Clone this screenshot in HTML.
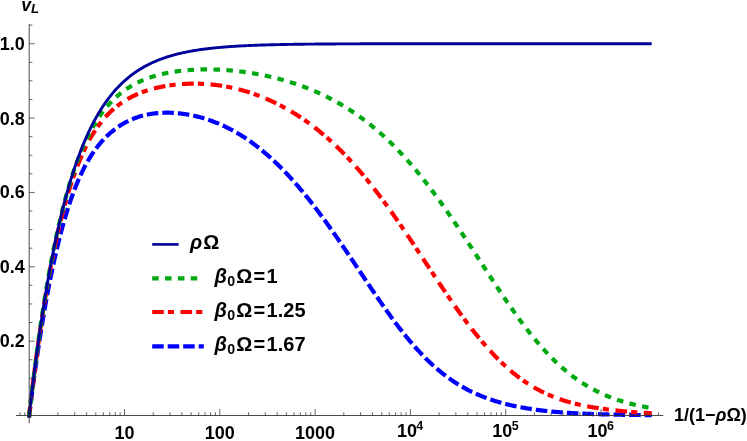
<!DOCTYPE html>
<html><head><meta charset="utf-8"><title>plot</title>
<style>
html,body{margin:0;padding:0;background:#fff;}
body{width:747px;height:441px;overflow:hidden;}
svg{display:block;will-change:transform;}
text{font-family:"Liberation Sans",sans-serif;font-weight:bold;fill:#000;}
</style></head><body>
<svg width="747" height="441" viewBox="0 0 747 441">
<rect width="747" height="441" fill="#fff"/>
<path d="M28.96 417.49 L29.20 415.50 L30.09 408.26 L30.98 401.17 L31.87 394.22 L32.76 387.42 L33.65 380.76 L34.54 374.24 L35.43 367.85 L36.32 361.59 L37.22 355.47 L38.11 349.47 L39.00 343.59 L39.89 337.84 L40.78 332.21 L41.67 326.70 L42.56 321.30 L43.45 316.02 L44.34 310.84 L45.23 305.78 L46.12 300.83 L47.01 295.98 L47.90 291.23 L48.79 286.59 L49.68 282.05 L50.57 277.60 L51.46 273.25 L52.35 269.00 L53.25 264.84 L54.14 260.77 L55.03 256.80 L55.92 252.91 L56.81 249.11 L57.70 245.40 L58.59 241.77 L59.48 238.22 L60.37 234.76 L61.26 231.37 L62.15 228.07 L63.04 224.84 L63.93 221.69 L64.82 218.61 L65.71 215.61 L66.60 212.68 L67.49 209.82 L68.38 207.03 L69.28 204.30 L70.17 201.65 L71.06 199.06 L71.95 196.53 L72.84 194.07 L73.73 191.67 L74.62 189.33 L75.51 187.05 L76.40 184.83 L77.29 182.66 L78.18 180.55 L79.07 178.50 L79.96 176.50 L80.85 174.56 L81.74 172.67 L82.63 170.83 L83.52 169.03 L84.41 167.29 L85.31 165.60 L86.20 163.95 L87.09 162.35 L87.98 160.79 L88.87 159.28 L89.76 157.81 L90.65 156.38 L91.54 154.99 L92.43 153.64 L93.32 152.32 L94.21 151.04 L95.10 149.80 L95.99 148.59 L96.88 147.41 L97.77 146.27 L98.66 145.16 L99.55 144.07 L100.44 143.01 L101.34 141.99 L102.23 140.98 L103.12 140.01 L104.01 139.05 L104.90 138.13 L105.79 137.22 L106.68 136.34 L107.57 135.48 L108.46 134.65 L109.35 133.84 L110.24 133.04 L111.13 132.27 L112.02 131.52 L112.91 130.79 L113.80 130.08 L114.69 129.39 L115.58 128.72 L116.47 128.06 L117.37 127.43 L118.26 126.81 L119.15 126.21 L120.04 125.62 L120.93 125.06 L121.82 124.51 L122.71 123.97 L123.60 123.46 L124.49 122.95 L125.38 122.47 L126.27 122.00 L127.16 121.54 L128.05 121.10 L128.94 120.67 L129.83 120.26 L130.72 119.86 L131.61 119.47 L132.50 119.10 L133.40 118.74 L134.29 118.39 L135.18 118.05 L136.07 117.73 L136.96 117.42 L137.85 117.12 L138.74 116.83 L139.63 116.55 L140.52 116.29 L141.41 116.03 L142.30 115.79 L143.19 115.56 L144.08 115.33 L144.97 115.12 L145.86 114.92 L146.75 114.72 L147.64 114.54 L148.53 114.37 L149.43 114.20 L150.32 114.05 L151.21 113.90 L152.10 113.77 L152.99 113.64 L153.88 113.52 L154.77 113.41 L155.66 113.31 L156.55 113.21 L157.44 113.13 L158.33 113.05 L159.22 112.98 L160.11 112.92 L161.00 112.86 L161.89 112.82 L162.78 112.78 L163.67 112.75 L164.56 112.73 L165.46 112.71 L166.35 112.70 L167.24 112.70 L168.13 112.71 L169.02 112.72 L169.91 112.74 L170.80 112.77 L171.69 112.80 L172.58 112.84 L173.47 112.89 L174.36 112.95 L175.25 113.01 L176.14 113.08 L177.03 113.15 L177.92 113.23 L178.81 113.32 L179.70 113.41 L180.59 113.52 L181.49 113.62 L182.38 113.74 L183.27 113.86 L184.16 113.98 L185.05 114.12 L185.94 114.26 L186.83 114.40 L187.72 114.55 L188.61 114.71 L189.50 114.88 L190.39 115.05 L191.28 115.22 L192.17 115.41 L193.06 115.60 L193.95 115.79 L194.84 115.99 L195.73 116.20 L196.62 116.41 L197.52 116.63 L198.41 116.86 L199.30 117.09 L200.19 117.33 L201.08 117.58 L201.97 117.83 L202.86 118.09 L203.75 118.35 L204.64 118.62 L205.53 118.90 L206.42 119.18 L207.31 119.47 L208.20 119.76 L209.09 120.06 L209.98 120.37 L210.87 120.68 L211.76 121.01 L212.65 121.33 L213.55 121.67 L214.44 122.00 L215.33 122.35 L216.22 122.70 L217.11 123.06 L218.00 123.43 L218.89 123.80 L219.78 124.18 L220.67 124.56 L221.56 124.96 L222.45 125.36 L223.34 125.76 L224.23 126.17 L225.12 126.59 L226.01 127.02 L226.90 127.45 L227.79 127.89 L228.68 128.34 L229.58 128.79 L230.47 129.25 L231.36 129.72 L232.25 130.20 L233.14 130.68 L234.03 131.17 L234.92 131.67 L235.81 132.17 L236.70 132.68 L237.59 133.20 L238.48 133.73 L239.37 134.26 L240.26 134.80 L241.15 135.35 L242.04 135.91 L242.93 136.47 L243.82 137.04 L244.72 137.62 L245.61 138.21 L246.50 138.80 L247.39 139.40 L248.28 140.01 L249.17 140.63 L250.06 141.26 L250.95 141.89 L251.84 142.53 L252.73 143.18 L253.62 143.83 L254.51 144.50 L255.40 145.17 L256.29 145.85 L257.18 146.54 L258.07 147.23 L258.96 147.93 L259.85 148.64 L260.75 149.36 L261.64 150.09 L262.53 150.82 L263.42 151.56 L264.31 152.31 L265.20 153.07 L266.09 153.83 L266.98 154.60 L267.87 155.38 L268.76 156.17 L269.65 156.96 L270.54 157.77 L271.43 158.58 L272.32 159.40 L273.21 160.22 L274.10 161.05 L274.99 161.90 L275.88 162.75 L276.78 163.60 L277.67 164.47 L278.56 165.34 L279.45 166.22 L280.34 167.10 L281.23 168.00 L282.12 168.90 L283.01 169.81 L283.90 170.73 L284.79 171.66 L285.68 172.59 L286.57 173.53 L287.46 174.48 L288.35 175.43 L289.24 176.39 L290.13 177.36 L291.02 178.34 L291.91 179.33 L292.81 180.32 L293.70 181.32 L294.59 182.32 L295.48 183.34 L296.37 184.36 L297.26 185.39 L298.15 186.42 L299.04 187.47 L299.93 188.52 L300.82 189.57 L301.71 190.64 L302.60 191.71 L303.49 192.79 L304.38 193.87 L305.27 194.96 L306.16 196.06 L307.05 197.16 L307.94 198.27 L308.84 199.39 L309.73 200.52 L310.62 201.65 L311.51 202.78 L312.40 203.93 L313.29 205.08 L314.18 206.23 L315.07 207.40 L315.96 208.56 L316.85 209.74 L317.74 210.92 L318.63 212.10 L319.52 213.29 L320.41 214.49 L321.30 215.69 L322.19 216.90 L323.08 218.11 L323.97 219.33 L324.87 220.56 L325.76 221.78 L326.65 223.02 L327.54 224.26 L328.43 225.50 L329.32 226.75 L330.21 228.00 L331.10 229.26 L331.99 230.52 L332.88 231.79 L333.77 233.06 L334.66 234.33 L335.55 235.61 L336.44 236.89 L337.33 238.17 L338.22 239.46 L339.11 240.75 L340.00 242.05 L340.90 243.35 L341.79 244.65 L342.68 245.95 L343.57 247.26 L344.46 248.57 L345.35 249.88 L346.24 251.20 L347.13 252.51 L348.02 253.83 L348.91 255.15 L349.80 256.47 L350.69 257.80 L351.58 259.12 L352.47 260.45 L353.36 261.78 L354.25 263.11 L355.14 264.44 L356.03 265.77 L356.93 267.10 L357.82 268.43 L358.71 269.76 L359.60 271.09 L360.49 272.42 L361.38 273.75 L362.27 275.08 L363.16 276.41 L364.05 277.74 L364.94 279.07 L365.83 280.40 L366.72 281.72 L367.61 283.05 L368.50 284.37 L369.39 285.69 L370.28 287.01 L371.17 288.33 L372.06 289.64 L372.96 290.96 L373.85 292.27 L374.74 293.57 L375.63 294.88 L376.52 296.18 L377.41 297.48 L378.30 298.77 L379.19 300.06 L380.08 301.35 L380.97 302.63 L381.86 303.91 L382.75 305.19 L383.64 306.46 L384.53 307.72 L385.42 308.98 L386.31 310.24 L387.20 311.49 L388.09 312.74 L388.99 313.98 L389.88 315.21 L390.77 316.44 L391.66 317.66 L392.55 318.87 L393.44 320.08 L394.33 321.28 L395.22 322.48 L396.11 323.67 L397.00 324.85 L397.89 326.02 L398.78 327.19 L399.67 328.34 L400.56 329.49 L401.45 330.64 L402.34 331.77 L403.23 332.90 L404.12 334.02 L405.02 335.13 L405.91 336.23 L406.80 337.32 L407.69 338.41 L408.58 339.48 L409.47 340.55 L410.36 341.61 L411.25 342.65 L412.14 343.69 L413.03 344.72 L413.92 345.74 L414.81 346.76 L415.70 347.76 L416.59 348.75 L417.48 349.73 L418.37 350.71 L419.26 351.67 L420.15 352.63 L421.05 353.57 L421.94 354.51 L422.83 355.43 L423.72 356.35 L424.61 357.25 L425.50 358.15 L426.39 359.03 L427.28 359.91 L428.17 360.78 L429.06 361.63 L429.95 362.48 L430.84 363.32 L431.73 364.14 L432.62 364.96 L433.51 365.77 L434.40 366.56 L435.29 367.35 L436.18 368.13 L437.08 368.90 L437.97 369.66 L438.86 370.41 L439.75 371.15 L440.64 371.87 L441.53 372.60 L442.42 373.31 L443.31 374.01 L444.20 374.70 L445.09 375.38 L445.98 376.05 L446.87 376.72 L447.76 377.37 L448.65 378.02 L449.54 378.66 L450.43 379.28 L451.32 379.90 L452.22 380.51 L453.11 381.11 L454.00 381.71 L454.89 382.29 L455.78 382.86 L456.67 383.43 L457.56 383.99 L458.45 384.54 L459.34 385.08 L460.23 385.61 L461.12 386.14 L462.01 386.65 L462.90 387.16 L463.79 387.66 L464.68 388.16 L465.57 388.64 L466.46 389.12 L467.35 389.59 L468.25 390.05 L469.14 390.51 L470.03 390.95 L470.92 391.39 L471.81 391.83 L472.70 392.25 L473.59 392.67 L474.48 393.09 L475.37 393.49 L476.26 393.89 L477.15 394.29 L478.04 394.67 L478.93 395.05 L479.82 395.43 L480.71 395.80 L481.60 396.16 L482.49 396.51 L483.38 396.86 L484.28 397.21 L485.17 397.55 L486.06 397.88 L486.95 398.21 L487.84 398.53 L488.73 398.85 L489.62 399.16 L490.51 399.46 L491.40 399.77 L492.29 400.06 L493.18 400.35 L494.07 400.64 L494.96 400.92 L495.85 401.20 L496.74 401.47 L497.63 401.74 L498.52 402.00 L499.41 402.26 L500.31 402.51 L501.20 402.76 L502.09 403.01 L502.98 403.25 L503.87 403.48 L504.76 403.72 L505.65 403.95 L506.54 404.17 L507.43 404.39 L508.32 404.61 L509.21 404.82 L510.10 405.03 L510.99 405.24 L511.88 405.44 L512.77 405.64 L513.66 405.83 L514.55 406.02 L515.44 406.21 L516.34 406.40 L517.23 406.58 L518.12 406.76 L519.01 406.93 L519.90 407.11 L520.79 407.27 L521.68 407.44 L522.57 407.60 L523.46 407.76 L524.35 407.92 L525.24 408.07 L526.13 408.23 L527.02 408.37 L527.91 408.52 L528.80 408.66 L529.69 408.80 L530.58 408.94 L531.47 409.08 L532.37 409.21 L533.26 409.34 L534.15 409.47 L535.04 409.59 L535.93 409.72 L536.82 409.84 L537.71 409.95 L538.60 410.07 L539.49 410.18 L540.38 410.30 L541.27 410.40 L542.16 410.51 L543.05 410.62 L543.94 410.72 L544.83 410.82 L545.72 410.92 L546.61 411.01 L547.50 411.11 L548.40 411.20 L549.29 411.29 L550.18 411.38 L551.07 411.47 L551.96 411.55 L552.85 411.64 L553.74 411.72 L554.63 411.80 L555.52 411.88 L556.41 411.95 L557.30 412.03 L558.19 412.10 L559.08 412.17 L559.97 412.25 L560.86 412.31 L561.75 412.38 L562.64 412.45 L563.53 412.51 L564.43 412.58 L565.32 412.64 L566.21 412.70 L567.10 412.76 L567.99 412.82 L568.88 412.87 L569.77 412.93 L570.66 412.98 L571.55 413.04 L572.44 413.09 L573.33 413.14 L574.22 413.19 L575.11 413.24 L576.00 413.29 L576.89 413.33 L577.78 413.38 L578.67 413.43 L579.56 413.47 L580.46 413.51 L581.35 413.56 L582.24 413.60 L583.13 413.64 L584.02 413.68 L584.91 413.72 L585.80 413.75 L586.69 413.79 L587.58 413.83 L588.47 413.86 L589.36 413.90 L590.25 413.93 L591.14 413.97 L592.03 414.00 L592.92 414.03 L593.81 414.06 L594.70 414.09 L595.59 414.12 L596.49 414.15 L597.38 414.18 L598.27 414.21 L599.16 414.24 L600.05 414.26 L600.94 414.29 L601.83 414.31 L602.72 414.34 L603.61 414.36 L604.50 414.39 L605.39 414.41 L606.28 414.44 L607.17 414.46 L608.06 414.48 L608.95 414.50 L609.84 414.52 L610.73 414.54 L611.62 414.56 L612.52 414.58 L613.41 414.60 L614.30 414.62 L615.19 414.64 L616.08 414.66 L616.97 414.68 L617.86 414.70 L618.75 414.71 L619.64 414.73 L620.53 414.75 L621.42 414.76 L622.31 414.78 L623.20 414.79 L624.09 414.81 L624.98 414.82 L625.87 414.84 L626.76 414.85 L627.65 414.87 L628.55 414.88 L629.44 414.89 L630.33 414.91 L631.22 414.92 L632.11 414.93 L633.00 414.94 L633.89 414.95 L634.78 414.97 L635.67 414.98 L636.56 414.99 L637.45 415.00 L638.34 415.01 L639.23 415.02 L640.12 415.03 L641.01 415.04 L641.90 415.05 L642.79 415.06 L643.68 415.07 L644.58 415.08 L645.47 415.09 L646.36 415.10 L647.25 415.10 L648.14 415.11 L649.03 415.12 L649.92 415.13 L650.81 415.14 L651.70 415.15" stroke="#0000ff" stroke-width="4.2" stroke-dasharray="11.55 4.025" stroke-dashoffset="0.78" fill="none"/>
<path d="M28.97 417.49 L29.20 415.50 L30.09 407.71 L30.98 400.08 L31.87 392.60 L32.76 385.28 L33.65 378.11 L34.54 371.09 L35.43 364.22 L36.32 357.49 L37.22 350.90 L38.11 344.45 L39.00 338.14 L39.89 331.96 L40.78 325.91 L41.67 320.00 L42.56 314.21 L43.45 308.54 L44.34 303.00 L45.23 297.58 L46.12 292.28 L47.01 287.09 L47.90 282.02 L48.79 277.05 L49.68 272.20 L50.57 267.46 L51.46 262.82 L52.35 258.29 L53.25 253.86 L54.14 249.53 L55.03 245.29 L55.92 241.15 L56.81 237.11 L57.70 233.16 L58.59 229.30 L59.48 225.53 L60.37 221.84 L61.26 218.25 L62.15 214.73 L63.04 211.30 L63.93 207.95 L64.82 204.67 L65.71 201.48 L66.60 198.36 L67.49 195.31 L68.38 192.34 L69.28 189.44 L70.17 186.61 L71.06 183.85 L71.95 181.15 L72.84 178.52 L73.73 175.96 L74.62 173.46 L75.51 171.02 L76.40 168.64 L77.29 166.32 L78.18 164.05 L79.07 161.85 L79.96 159.69 L80.85 157.60 L81.74 155.55 L82.63 153.56 L83.52 151.62 L84.41 149.73 L85.31 147.89 L86.20 146.09 L87.09 144.34 L87.98 142.64 L88.87 140.98 L89.76 139.36 L90.65 137.79 L91.54 136.25 L92.43 134.76 L93.32 133.31 L94.21 131.90 L95.10 130.52 L95.99 129.18 L96.88 127.87 L97.77 126.61 L98.66 125.37 L99.55 124.17 L100.44 123.00 L101.34 121.86 L102.23 120.75 L103.12 119.68 L104.01 118.63 L104.90 117.61 L105.79 116.62 L106.68 115.65 L107.57 114.71 L108.46 113.80 L109.35 112.91 L110.24 112.04 L111.13 111.20 L112.02 110.38 L112.91 109.59 L113.80 108.81 L114.69 108.06 L115.58 107.32 L116.47 106.60 L117.37 105.91 L118.26 105.23 L119.15 104.57 L120.04 103.92 L120.93 103.29 L121.82 102.68 L122.71 102.08 L123.60 101.50 L124.49 100.93 L125.38 100.38 L126.27 99.84 L127.16 99.31 L128.05 98.80 L128.94 98.30 L129.83 97.81 L130.72 97.34 L131.61 96.88 L132.50 96.43 L133.40 95.99 L134.29 95.56 L135.18 95.14 L136.07 94.73 L136.96 94.34 L137.85 93.95 L138.74 93.58 L139.63 93.21 L140.52 92.85 L141.41 92.51 L142.30 92.17 L143.19 91.84 L144.08 91.52 L144.97 91.21 L145.86 90.90 L146.75 90.61 L147.64 90.32 L148.53 90.04 L149.43 89.77 L150.32 89.50 L151.21 89.25 L152.10 89.00 L152.99 88.75 L153.88 88.52 L154.77 88.29 L155.66 88.07 L156.55 87.85 L157.44 87.64 L158.33 87.44 L159.22 87.24 L160.11 87.05 L161.00 86.87 L161.89 86.69 L162.78 86.51 L163.67 86.35 L164.56 86.18 L165.46 86.03 L166.35 85.88 L167.24 85.73 L168.13 85.59 L169.02 85.46 L169.91 85.33 L170.80 85.21 L171.69 85.09 L172.58 84.97 L173.47 84.86 L174.36 84.76 L175.25 84.66 L176.14 84.57 L177.03 84.48 L177.92 84.39 L178.81 84.31 L179.70 84.24 L180.59 84.17 L181.49 84.10 L182.38 84.04 L183.27 83.98 L184.16 83.93 L185.05 83.88 L185.94 83.84 L186.83 83.80 L187.72 83.77 L188.61 83.74 L189.50 83.71 L190.39 83.69 L191.28 83.67 L192.17 83.66 L193.06 83.65 L193.95 83.65 L194.84 83.65 L195.73 83.65 L196.62 83.66 L197.52 83.68 L198.41 83.69 L199.30 83.72 L200.19 83.74 L201.08 83.78 L201.97 83.81 L202.86 83.85 L203.75 83.90 L204.64 83.95 L205.53 84.00 L206.42 84.06 L207.31 84.12 L208.20 84.19 L209.09 84.26 L209.98 84.34 L210.87 84.42 L211.76 84.50 L212.65 84.60 L213.55 84.69 L214.44 84.79 L215.33 84.89 L216.22 85.00 L217.11 85.12 L218.00 85.24 L218.89 85.36 L219.78 85.49 L220.67 85.62 L221.56 85.76 L222.45 85.90 L223.34 86.05 L224.23 86.20 L225.12 86.36 L226.01 86.52 L226.90 86.69 L227.79 86.86 L228.68 87.04 L229.58 87.22 L230.47 87.40 L231.36 87.59 L232.25 87.79 L233.14 87.99 L234.03 88.19 L234.92 88.40 L235.81 88.61 L236.70 88.83 L237.59 89.05 L238.48 89.28 L239.37 89.51 L240.26 89.75 L241.15 89.99 L242.04 90.24 L242.93 90.49 L243.82 90.74 L244.72 91.00 L245.61 91.27 L246.50 91.54 L247.39 91.81 L248.28 92.09 L249.17 92.37 L250.06 92.66 L250.95 92.96 L251.84 93.25 L252.73 93.56 L253.62 93.86 L254.51 94.18 L255.40 94.50 L256.29 94.82 L257.18 95.14 L258.07 95.48 L258.96 95.81 L259.85 96.16 L260.75 96.50 L261.64 96.85 L262.53 97.21 L263.42 97.57 L264.31 97.94 L265.20 98.31 L266.09 98.69 L266.98 99.07 L267.87 99.46 L268.76 99.85 L269.65 100.25 L270.54 100.65 L271.43 101.06 L272.32 101.47 L273.21 101.89 L274.10 102.31 L274.99 102.74 L275.88 103.17 L276.78 103.61 L277.67 104.06 L278.56 104.51 L279.45 104.96 L280.34 105.42 L281.23 105.89 L282.12 106.36 L283.01 106.83 L283.90 107.32 L284.79 107.80 L285.68 108.30 L286.57 108.79 L287.46 109.30 L288.35 109.81 L289.24 110.32 L290.13 110.85 L291.02 111.37 L291.91 111.90 L292.81 112.44 L293.70 112.99 L294.59 113.54 L295.48 114.09 L296.37 114.65 L297.26 115.22 L298.15 115.79 L299.04 116.37 L299.93 116.96 L300.82 117.55 L301.71 118.15 L302.60 118.75 L303.49 119.36 L304.38 119.97 L305.27 120.59 L306.16 121.22 L307.05 121.85 L307.94 122.49 L308.84 123.14 L309.73 123.79 L310.62 124.45 L311.51 125.11 L312.40 125.79 L313.29 126.46 L314.18 127.15 L315.07 127.84 L315.96 128.53 L316.85 129.24 L317.74 129.95 L318.63 130.66 L319.52 131.38 L320.41 132.11 L321.30 132.85 L322.19 133.59 L323.08 134.34 L323.97 135.09 L324.87 135.86 L325.76 136.62 L326.65 137.40 L327.54 138.18 L328.43 138.97 L329.32 139.76 L330.21 140.57 L331.10 141.38 L331.99 142.19 L332.88 143.01 L333.77 143.84 L334.66 144.68 L335.55 145.52 L336.44 146.37 L337.33 147.23 L338.22 148.09 L339.11 148.96 L340.00 149.84 L340.90 150.73 L341.79 151.62 L342.68 152.52 L343.57 153.42 L344.46 154.33 L345.35 155.25 L346.24 156.18 L347.13 157.11 L348.02 158.05 L348.91 159.00 L349.80 159.95 L350.69 160.91 L351.58 161.88 L352.47 162.86 L353.36 163.84 L354.25 164.83 L355.14 165.82 L356.03 166.83 L356.93 167.84 L357.82 168.85 L358.71 169.88 L359.60 170.91 L360.49 171.94 L361.38 172.99 L362.27 174.04 L363.16 175.10 L364.05 176.16 L364.94 177.23 L365.83 178.31 L366.72 179.40 L367.61 180.49 L368.50 181.59 L369.39 182.69 L370.28 183.80 L371.17 184.92 L372.06 186.05 L372.96 187.18 L373.85 188.31 L374.74 189.46 L375.63 190.61 L376.52 191.77 L377.41 192.93 L378.30 194.10 L379.19 195.27 L380.08 196.45 L380.97 197.64 L381.86 198.83 L382.75 200.03 L383.64 201.23 L384.53 202.44 L385.42 203.66 L386.31 204.88 L387.20 206.10 L388.09 207.33 L388.99 208.57 L389.88 209.81 L390.77 211.06 L391.66 212.31 L392.55 213.56 L393.44 214.82 L394.33 216.09 L395.22 217.36 L396.11 218.63 L397.00 219.91 L397.89 221.19 L398.78 222.48 L399.67 223.77 L400.56 225.07 L401.45 226.37 L402.34 227.67 L403.23 228.97 L404.12 230.28 L405.02 231.59 L405.91 232.91 L406.80 234.23 L407.69 235.55 L408.58 236.87 L409.47 238.20 L410.36 239.53 L411.25 240.86 L412.14 242.20 L413.03 243.53 L413.92 244.87 L414.81 246.21 L415.70 247.55 L416.59 248.90 L417.48 250.24 L418.37 251.59 L419.26 252.94 L420.15 254.28 L421.05 255.63 L421.94 256.98 L422.83 258.33 L423.72 259.68 L424.61 261.04 L425.50 262.39 L426.39 263.74 L427.28 265.09 L428.17 266.44 L429.06 267.79 L429.95 269.14 L430.84 270.49 L431.73 271.83 L432.62 273.18 L433.51 274.52 L434.40 275.87 L435.29 277.21 L436.18 278.55 L437.08 279.89 L437.97 281.22 L438.86 282.56 L439.75 283.89 L440.64 285.22 L441.53 286.54 L442.42 287.87 L443.31 289.19 L444.20 290.50 L445.09 291.82 L445.98 293.13 L446.87 294.43 L447.76 295.74 L448.65 297.04 L449.54 298.33 L450.43 299.62 L451.32 300.91 L452.22 302.19 L453.11 303.46 L454.00 304.74 L454.89 306.00 L455.78 307.26 L456.67 308.52 L457.56 309.77 L458.45 311.02 L459.34 312.26 L460.23 313.49 L461.12 314.72 L462.01 315.94 L462.90 317.16 L463.79 318.37 L464.68 319.57 L465.57 320.77 L466.46 321.96 L467.35 323.14 L468.25 324.32 L469.14 325.49 L470.03 326.65 L470.92 327.80 L471.81 328.95 L472.70 330.09 L473.59 331.22 L474.48 332.35 L475.37 333.47 L476.26 334.58 L477.15 335.68 L478.04 336.77 L478.93 337.86 L479.82 338.93 L480.71 340.00 L481.60 341.06 L482.49 342.12 L483.38 343.16 L484.28 344.20 L485.17 345.22 L486.06 346.24 L486.95 347.25 L487.84 348.25 L488.73 349.25 L489.62 350.23 L490.51 351.20 L491.40 352.17 L492.29 353.13 L493.18 354.07 L494.07 355.01 L494.96 355.94 L495.85 356.86 L496.74 357.77 L497.63 358.68 L498.52 359.57 L499.41 360.45 L500.31 361.33 L501.20 362.19 L502.09 363.05 L502.98 363.89 L503.87 364.73 L504.76 365.55 L505.65 366.37 L506.54 367.18 L507.43 367.97 L508.32 368.76 L509.21 369.54 L510.10 370.31 L510.99 371.07 L511.88 371.81 L512.77 372.55 L513.66 373.28 L514.55 374.00 L515.44 374.71 L516.34 375.41 L517.23 376.10 L518.12 376.78 L519.01 377.45 L519.90 378.12 L520.79 378.77 L521.68 379.41 L522.57 380.05 L523.46 380.67 L524.35 381.29 L525.24 381.89 L526.13 382.49 L527.02 383.08 L527.91 383.66 L528.80 384.23 L529.69 384.79 L530.58 385.34 L531.47 385.89 L532.37 386.42 L533.26 386.95 L534.15 387.47 L535.04 387.98 L535.93 388.48 L536.82 388.97 L537.71 389.46 L538.60 389.94 L539.49 390.41 L540.38 390.87 L541.27 391.32 L542.16 391.77 L543.05 392.21 L543.94 392.64 L544.83 393.06 L545.72 393.48 L546.61 393.89 L547.50 394.29 L548.40 394.68 L549.29 395.07 L550.18 395.45 L551.07 395.82 L551.96 396.19 L552.85 396.55 L553.74 396.91 L554.63 397.25 L555.52 397.60 L556.41 397.93 L557.30 398.26 L558.19 398.58 L559.08 398.90 L559.97 399.21 L560.86 399.52 L561.75 399.82 L562.64 400.11 L563.53 400.40 L564.43 400.68 L565.32 400.96 L566.21 401.23 L567.10 401.50 L567.99 401.76 L568.88 402.02 L569.77 402.27 L570.66 402.52 L571.55 402.76 L572.44 403.00 L573.33 403.23 L574.22 403.46 L575.11 403.68 L576.00 403.90 L576.89 404.12 L577.78 404.33 L578.67 404.54 L579.56 404.74 L580.46 404.94 L581.35 405.13 L582.24 405.32 L583.13 405.51 L584.02 405.69 L584.91 405.87 L585.80 406.05 L586.69 406.22 L587.58 406.39 L588.47 406.56 L589.36 406.72 L590.25 406.88 L591.14 407.04 L592.03 407.19 L592.92 407.34 L593.81 407.49 L594.70 407.63 L595.59 407.77 L596.49 407.91 L597.38 408.05 L598.27 408.18 L599.16 408.31 L600.05 408.44 L600.94 408.57 L601.83 408.69 L602.72 408.81 L603.61 408.93 L604.50 409.05 L605.39 409.17 L606.28 409.28 L607.17 409.40 L608.06 409.51 L608.95 409.62 L609.84 409.73 L610.73 409.83 L611.62 409.94 L612.52 410.05 L613.41 410.15 L614.30 410.25 L615.19 410.35 L616.08 410.45 L616.97 410.55 L617.86 410.65 L618.75 410.75 L619.64 410.85 L620.53 410.94 L621.42 411.04 L622.31 411.13 L623.20 411.22 L624.09 411.31 L624.98 411.40 L625.87 411.49 L626.76 411.57 L627.65 411.66 L628.55 411.74 L629.44 411.82 L630.33 411.90 L631.22 411.97 L632.11 412.05 L633.00 412.12 L633.89 412.19 L634.78 412.25 L635.67 412.32 L636.56 412.38 L637.45 412.44 L638.34 412.50 L639.23 412.56 L640.12 412.61 L641.01 412.67 L641.90 412.72 L642.79 412.76 L643.68 412.81 L644.58 412.85 L645.47 412.89 L646.36 412.93 L647.25 412.97 L648.14 413.00 L649.03 413.04 L649.92 413.07 L650.81 413.09 L651.70 413.12" stroke="#ff0000" stroke-width="4.2" stroke-dasharray="11.7 4.15 6.15 6.52" stroke-dashoffset="0.25" fill="none"/>
<path d="M28.98 417.49 L29.20 415.50 L30.09 407.54 L30.98 399.75 L31.87 392.12 L32.76 384.65 L33.65 377.35 L34.54 370.19 L35.43 363.20 L36.32 356.35 L37.22 349.64 L38.11 343.09 L39.00 336.67 L39.89 330.39 L40.78 324.24 L41.67 318.23 L42.56 312.35 L43.45 306.60 L44.34 300.97 L45.23 295.46 L46.12 290.08 L47.01 284.81 L47.90 279.65 L48.79 274.61 L49.68 269.68 L50.57 264.86 L51.46 260.15 L52.35 255.54 L53.25 251.03 L54.14 246.62 L55.03 242.31 L55.92 238.09 L56.81 233.97 L57.70 229.94 L58.59 226.00 L59.48 222.15 L60.37 218.39 L61.26 214.71 L62.15 211.12 L63.04 207.60 L63.93 204.17 L64.82 200.81 L65.71 197.53 L66.60 194.32 L67.49 191.19 L68.38 188.13 L69.28 185.14 L70.17 182.22 L71.06 179.37 L71.95 176.58 L72.84 173.85 L73.73 171.19 L74.62 168.60 L75.51 166.06 L76.40 163.58 L77.29 161.16 L78.18 158.80 L79.07 156.49 L79.96 154.23 L80.85 152.03 L81.74 149.89 L82.63 147.79 L83.52 145.74 L84.41 143.75 L85.31 141.80 L86.20 139.89 L87.09 138.04 L87.98 136.22 L88.87 134.45 L89.76 132.73 L90.65 131.04 L91.54 129.40 L92.43 127.80 L93.32 126.23 L94.21 124.71 L95.10 123.22 L95.99 121.77 L96.88 120.35 L97.77 118.97 L98.66 117.63 L99.55 116.31 L100.44 115.03 L101.34 113.79 L102.23 112.57 L103.12 111.38 L104.01 110.23 L104.90 109.10 L105.79 108.00 L106.68 106.93 L107.57 105.88 L108.46 104.86 L109.35 103.87 L110.24 102.90 L111.13 101.96 L112.02 101.04 L112.91 100.15 L113.80 99.28 L114.69 98.43 L115.58 97.60 L116.47 96.79 L117.37 96.00 L118.26 95.23 L119.15 94.49 L120.04 93.76 L120.93 93.05 L121.82 92.36 L122.71 91.68 L123.60 91.03 L124.49 90.38 L125.38 89.76 L126.27 89.15 L127.16 88.56 L128.05 87.98 L128.94 87.41 L129.83 86.86 L130.72 86.33 L131.61 85.80 L132.50 85.29 L133.40 84.79 L134.29 84.31 L135.18 83.84 L136.07 83.37 L136.96 82.92 L137.85 82.48 L138.74 82.06 L139.63 81.64 L140.52 81.23 L141.41 80.84 L142.30 80.45 L143.19 80.07 L144.08 79.71 L144.97 79.35 L145.86 79.00 L146.75 78.66 L147.64 78.33 L148.53 78.01 L149.43 77.70 L150.32 77.39 L151.21 77.09 L152.10 76.80 L152.99 76.52 L153.88 76.25 L154.77 75.98 L155.66 75.72 L156.55 75.47 L157.44 75.22 L158.33 74.98 L159.22 74.75 L160.11 74.53 L161.00 74.31 L161.89 74.09 L162.78 73.89 L163.67 73.68 L164.56 73.49 L165.46 73.30 L166.35 73.12 L167.24 72.94 L168.13 72.76 L169.02 72.60 L169.91 72.43 L170.80 72.28 L171.69 72.12 L172.58 71.98 L173.47 71.83 L174.36 71.70 L175.25 71.56 L176.14 71.44 L177.03 71.31 L177.92 71.19 L178.81 71.08 L179.70 70.97 L180.59 70.86 L181.49 70.76 L182.38 70.66 L183.27 70.57 L184.16 70.48 L185.05 70.39 L185.94 70.31 L186.83 70.23 L187.72 70.15 L188.61 70.08 L189.50 70.02 L190.39 69.95 L191.28 69.89 L192.17 69.84 L193.06 69.78 L193.95 69.74 L194.84 69.69 L195.73 69.65 L196.62 69.61 L197.52 69.57 L198.41 69.54 L199.30 69.51 L200.19 69.49 L201.08 69.46 L201.97 69.45 L202.86 69.43 L203.75 69.42 L204.64 69.41 L205.53 69.40 L206.42 69.40 L207.31 69.40 L208.20 69.40 L209.09 69.41 L209.98 69.42 L210.87 69.43 L211.76 69.44 L212.65 69.46 L213.55 69.48 L214.44 69.51 L215.33 69.53 L216.22 69.57 L217.11 69.60 L218.00 69.64 L218.89 69.67 L219.78 69.72 L220.67 69.76 L221.56 69.81 L222.45 69.86 L223.34 69.92 L224.23 69.97 L225.12 70.03 L226.01 70.09 L226.90 70.16 L227.79 70.23 L228.68 70.30 L229.58 70.37 L230.47 70.45 L231.36 70.53 L232.25 70.61 L233.14 70.70 L234.03 70.79 L234.92 70.88 L235.81 70.97 L236.70 71.07 L237.59 71.17 L238.48 71.27 L239.37 71.37 L240.26 71.48 L241.15 71.59 L242.04 71.70 L242.93 71.82 L243.82 71.94 L244.72 72.06 L245.61 72.18 L246.50 72.31 L247.39 72.44 L248.28 72.57 L249.17 72.71 L250.06 72.84 L250.95 72.98 L251.84 73.13 L252.73 73.27 L253.62 73.42 L254.51 73.58 L255.40 73.73 L256.29 73.89 L257.18 74.05 L258.07 74.21 L258.96 74.38 L259.85 74.55 L260.75 74.72 L261.64 74.90 L262.53 75.07 L263.42 75.25 L264.31 75.44 L265.20 75.62 L266.09 75.81 L266.98 76.01 L267.87 76.20 L268.76 76.40 L269.65 76.60 L270.54 76.81 L271.43 77.02 L272.32 77.23 L273.21 77.44 L274.10 77.66 L274.99 77.88 L275.88 78.10 L276.78 78.33 L277.67 78.56 L278.56 78.79 L279.45 79.03 L280.34 79.26 L281.23 79.51 L282.12 79.75 L283.01 80.00 L283.90 80.25 L284.79 80.51 L285.68 80.77 L286.57 81.03 L287.46 81.30 L288.35 81.57 L289.24 81.84 L290.13 82.11 L291.02 82.39 L291.91 82.68 L292.81 82.96 L293.70 83.25 L294.59 83.55 L295.48 83.84 L296.37 84.14 L297.26 84.45 L298.15 84.76 L299.04 85.07 L299.93 85.38 L300.82 85.70 L301.71 86.03 L302.60 86.35 L303.49 86.68 L304.38 87.02 L305.27 87.36 L306.16 87.70 L307.05 88.05 L307.94 88.40 L308.84 88.75 L309.73 89.11 L310.62 89.47 L311.51 89.84 L312.40 90.21 L313.29 90.58 L314.18 90.96 L315.07 91.34 L315.96 91.73 L316.85 92.12 L317.74 92.52 L318.63 92.92 L319.52 93.32 L320.41 93.73 L321.30 94.15 L322.19 94.56 L323.08 94.99 L323.97 95.41 L324.87 95.84 L325.76 96.28 L326.65 96.72 L327.54 97.16 L328.43 97.61 L329.32 98.07 L330.21 98.53 L331.10 98.99 L331.99 99.46 L332.88 99.93 L333.77 100.41 L334.66 100.90 L335.55 101.39 L336.44 101.88 L337.33 102.38 L338.22 102.88 L339.11 103.39 L340.00 103.90 L340.90 104.42 L341.79 104.95 L342.68 105.48 L343.57 106.01 L344.46 106.55 L345.35 107.10 L346.24 107.65 L347.13 108.20 L348.02 108.76 L348.91 109.33 L349.80 109.90 L350.69 110.48 L351.58 111.07 L352.47 111.66 L353.36 112.25 L354.25 112.85 L355.14 113.46 L356.03 114.07 L356.93 114.69 L357.82 115.31 L358.71 115.94 L359.60 116.58 L360.49 117.22 L361.38 117.87 L362.27 118.52 L363.16 119.18 L364.05 119.85 L364.94 120.52 L365.83 121.20 L366.72 121.88 L367.61 122.58 L368.50 123.27 L369.39 123.98 L370.28 124.69 L371.17 125.40 L372.06 126.12 L372.96 126.85 L373.85 127.59 L374.74 128.33 L375.63 129.08 L376.52 129.84 L377.41 130.60 L378.30 131.37 L379.19 132.14 L380.08 132.92 L380.97 133.71 L381.86 134.51 L382.75 135.31 L383.64 136.12 L384.53 136.94 L385.42 137.76 L386.31 138.59 L387.20 139.43 L388.09 140.27 L388.99 141.12 L389.88 141.98 L390.77 142.84 L391.66 143.71 L392.55 144.59 L393.44 145.48 L394.33 146.37 L395.22 147.27 L396.11 148.18 L397.00 149.09 L397.89 150.02 L398.78 150.95 L399.67 151.88 L400.56 152.82 L401.45 153.77 L402.34 154.73 L403.23 155.69 L404.12 156.67 L405.02 157.64 L405.91 158.63 L406.80 159.62 L407.69 160.62 L408.58 161.63 L409.47 162.64 L410.36 163.66 L411.25 164.69 L412.14 165.72 L413.03 166.76 L413.92 167.81 L414.81 168.87 L415.70 169.93 L416.59 171.00 L417.48 172.07 L418.37 173.16 L419.26 174.24 L420.15 175.34 L421.05 176.44 L421.94 177.55 L422.83 178.67 L423.72 179.79 L424.61 180.92 L425.50 182.05 L426.39 183.20 L427.28 184.34 L428.17 185.50 L429.06 186.66 L429.95 187.83 L430.84 189.00 L431.73 190.18 L432.62 191.37 L433.51 192.56 L434.40 193.75 L435.29 194.96 L436.18 196.17 L437.08 197.38 L437.97 198.60 L438.86 199.83 L439.75 201.06 L440.64 202.30 L441.53 203.54 L442.42 204.79 L443.31 206.04 L444.20 207.30 L445.09 208.56 L445.98 209.83 L446.87 211.10 L447.76 212.38 L448.65 213.67 L449.54 214.95 L450.43 216.24 L451.32 217.54 L452.22 218.84 L453.11 220.15 L454.00 221.45 L454.89 222.77 L455.78 224.08 L456.67 225.40 L457.56 226.73 L458.45 228.05 L459.34 229.39 L460.23 230.72 L461.12 232.06 L462.01 233.40 L462.90 234.74 L463.79 236.08 L464.68 237.43 L465.57 238.78 L466.46 240.14 L467.35 241.49 L468.25 242.85 L469.14 244.21 L470.03 245.57 L470.92 246.93 L471.81 248.30 L472.70 249.67 L473.59 251.03 L474.48 252.40 L475.37 253.77 L476.26 255.14 L477.15 256.51 L478.04 257.88 L478.93 259.25 L479.82 260.63 L480.71 262.00 L481.60 263.37 L482.49 264.74 L483.38 266.11 L484.28 267.48 L485.17 268.85 L486.06 270.22 L486.95 271.59 L487.84 272.95 L488.73 274.32 L489.62 275.68 L490.51 277.04 L491.40 278.40 L492.29 279.76 L493.18 281.12 L494.07 282.47 L494.96 283.82 L495.85 285.17 L496.74 286.52 L497.63 287.86 L498.52 289.20 L499.41 290.53 L500.31 291.87 L501.20 293.20 L502.09 294.52 L502.98 295.84 L503.87 297.16 L504.76 298.47 L505.65 299.78 L506.54 301.09 L507.43 302.38 L508.32 303.68 L509.21 304.97 L510.10 306.25 L510.99 307.53 L511.88 308.80 L512.77 310.07 L513.66 311.33 L514.55 312.59 L515.44 313.84 L516.34 315.08 L517.23 316.32 L518.12 317.55 L519.01 318.77 L519.90 319.98 L520.79 321.19 L521.68 322.39 L522.57 323.59 L523.46 324.77 L524.35 325.95 L525.24 327.12 L526.13 328.28 L527.02 329.44 L527.91 330.58 L528.80 331.72 L529.69 332.85 L530.58 333.97 L531.47 335.08 L532.37 336.19 L533.26 337.28 L534.15 338.37 L535.04 339.44 L535.93 340.51 L536.82 341.57 L537.71 342.62 L538.60 343.66 L539.49 344.69 L540.38 345.71 L541.27 346.73 L542.16 347.73 L543.05 348.72 L543.94 349.71 L544.83 350.68 L545.72 351.65 L546.61 352.60 L547.50 353.55 L548.40 354.48 L549.29 355.41 L550.18 356.32 L551.07 357.23 L551.96 358.13 L552.85 359.01 L553.74 359.89 L554.63 360.76 L555.52 361.62 L556.41 362.46 L557.30 363.30 L558.19 364.13 L559.08 364.95 L559.97 365.76 L560.86 366.56 L561.75 367.35 L562.64 368.13 L563.53 368.90 L564.43 369.66 L565.32 370.41 L566.21 371.15 L567.10 371.88 L567.99 372.60 L568.88 373.32 L569.77 374.02 L570.66 374.71 L571.55 375.40 L572.44 376.08 L573.33 376.74 L574.22 377.40 L575.11 378.05 L576.00 378.69 L576.89 379.32 L577.78 379.94 L578.67 380.56 L579.56 381.16 L580.46 381.76 L581.35 382.34 L582.24 382.92 L583.13 383.49 L584.02 384.05 L584.91 384.61 L585.80 385.15 L586.69 385.69 L587.58 386.22 L588.47 386.74 L589.36 387.25 L590.25 387.76 L591.14 388.25 L592.03 388.74 L592.92 389.23 L593.81 389.70 L594.70 390.17 L595.59 390.63 L596.49 391.08 L597.38 391.53 L598.27 391.96 L599.16 392.39 L600.05 392.82 L600.94 393.24 L601.83 393.65 L602.72 394.05 L603.61 394.45 L604.50 394.84 L605.39 395.22 L606.28 395.60 L607.17 395.97 L608.06 396.33 L608.95 396.69 L609.84 397.04 L610.73 397.39 L611.62 397.73 L612.52 398.06 L613.41 398.39 L614.30 398.72 L615.19 399.03 L616.08 399.35 L616.97 399.65 L617.86 399.95 L618.75 400.25 L619.64 400.54 L620.53 400.83 L621.42 401.11 L622.31 401.38 L623.20 401.65 L624.09 401.92 L624.98 402.18 L625.87 402.43 L626.76 402.69 L627.65 402.93 L628.55 403.18 L629.44 403.41 L630.33 403.65 L631.22 403.88 L632.11 404.10 L633.00 404.32 L633.89 404.54 L634.78 404.75 L635.67 404.96 L636.56 405.17 L637.45 405.37 L638.34 405.57 L639.23 405.76 L640.12 405.95 L641.01 406.14 L641.90 406.32 L642.79 406.50 L643.68 406.67 L644.58 406.85 L645.47 407.02 L646.36 407.18 L647.25 407.35 L648.14 407.51 L649.03 407.66 L649.92 407.82 L650.81 407.97 L651.70 408.12" stroke="#00a911" stroke-width="4.2" stroke-dasharray="6.55 6.4045" stroke-dashoffset="-0.22" fill="none"/>
<path d="M28.98 417.49 L29.20 415.50 L30.09 407.59 L30.98 399.84 L31.87 392.26 L32.76 384.84 L33.65 377.58 L34.54 370.47 L35.43 363.51 L36.32 356.70 L37.22 350.04 L38.11 343.52 L39.00 337.14 L39.89 330.89 L40.78 324.78 L41.67 318.79 L42.56 312.94 L43.45 307.21 L44.34 301.60 L45.23 296.11 L46.12 290.73 L47.01 285.48 L47.90 280.33 L48.79 275.29 L49.68 270.36 L50.57 265.54 L51.46 260.81 L52.35 256.19 L53.25 251.67 L54.14 247.24 L55.03 242.91 L55.92 238.67 L56.81 234.52 L57.70 230.46 L58.59 226.48 L59.48 222.59 L60.37 218.78 L61.26 215.06 L62.15 211.41 L63.04 207.84 L63.93 204.34 L64.82 200.92 L65.71 197.58 L66.60 194.30 L67.49 191.10 L68.38 187.96 L69.28 184.89 L70.17 181.88 L71.06 178.94 L71.95 176.06 L72.84 173.24 L73.73 170.49 L74.62 167.79 L75.51 165.15 L76.40 162.56 L77.29 160.03 L78.18 157.55 L79.07 155.13 L79.96 152.76 L80.85 150.44 L81.74 148.16 L82.63 145.94 L83.52 143.76 L84.41 141.63 L85.31 139.55 L86.20 137.51 L87.09 135.51 L87.98 133.56 L88.87 131.64 L89.76 129.77 L90.65 127.94 L91.54 126.15 L92.43 124.39 L93.32 122.67 L94.21 120.99 L95.10 119.35 L95.99 117.74 L96.88 116.16 L97.77 114.62 L98.66 113.11 L99.55 111.63 L100.44 110.19 L101.34 108.77 L102.23 107.38 L103.12 106.03 L104.01 104.70 L104.90 103.40 L105.79 102.13 L106.68 100.89 L107.57 99.67 L108.46 98.48 L109.35 97.31 L110.24 96.17 L111.13 95.06 L112.02 93.96 L112.91 92.89 L113.80 91.85 L114.69 90.82 L115.58 89.82 L116.47 88.84 L117.37 87.87 L118.26 86.93 L119.15 86.01 L120.04 85.11 L120.93 84.23 L121.82 83.37 L122.71 82.52 L123.60 81.70 L124.49 80.89 L125.38 80.10 L126.27 79.32 L127.16 78.56 L128.05 77.82 L128.94 77.10 L129.83 76.39 L130.72 75.69 L131.61 75.01 L132.50 74.34 L133.40 73.69 L134.29 73.05 L135.18 72.43 L136.07 71.81 L136.96 71.22 L137.85 70.63 L138.74 70.06 L139.63 69.50 L140.52 68.95 L141.41 68.41 L142.30 67.88 L143.19 67.37 L144.08 66.86 L144.97 66.37 L145.86 65.89 L146.75 65.42 L147.64 64.95 L148.53 64.50 L149.43 64.06 L150.32 63.63 L151.21 63.20 L152.10 62.79 L152.99 62.38 L153.88 61.98 L154.77 61.59 L155.66 61.21 L156.55 60.84 L157.44 60.47 L158.33 60.12 L159.22 59.77 L160.11 59.43 L161.00 59.09 L161.89 58.76 L162.78 58.44 L163.67 58.13 L164.56 57.82 L165.46 57.52 L166.35 57.23 L167.24 56.94 L168.13 56.66 L169.02 56.38 L169.91 56.11 L170.80 55.85 L171.69 55.59 L172.58 55.34 L173.47 55.09 L174.36 54.85 L175.25 54.61 L176.14 54.38 L177.03 54.15 L177.92 53.93 L178.81 53.71 L179.70 53.50 L180.59 53.29 L181.49 53.08 L182.38 52.88 L183.27 52.69 L184.16 52.50 L185.05 52.31 L185.94 52.13 L186.83 51.95 L187.72 51.77 L188.61 51.60 L189.50 51.43 L190.39 51.27 L191.28 51.11 L192.17 50.95 L193.06 50.79 L193.95 50.64 L194.84 50.49 L195.73 50.35 L196.62 50.21 L197.52 50.07 L198.41 49.93 L199.30 49.80 L200.19 49.67 L201.08 49.54 L201.97 49.42 L202.86 49.30 L203.75 49.18 L204.64 49.06 L205.53 48.95 L206.42 48.84 L207.31 48.73 L208.20 48.62 L209.09 48.52 L209.98 48.41 L210.87 48.31 L211.76 48.21 L212.65 48.12 L213.55 48.02 L214.44 47.93 L215.33 47.84 L216.22 47.75 L217.11 47.67 L218.00 47.58 L218.89 47.50 L219.78 47.42 L220.67 47.34 L221.56 47.26 L222.45 47.19 L223.34 47.11 L224.23 47.04 L225.12 46.97 L226.01 46.90 L226.90 46.83 L227.79 46.76 L228.68 46.70 L229.58 46.64 L230.47 46.57 L231.36 46.51 L232.25 46.45 L233.14 46.39 L234.03 46.34 L234.92 46.28 L235.81 46.23 L236.70 46.17 L237.59 46.12 L238.48 46.07 L239.37 46.02 L240.26 45.97 L241.15 45.92 L242.04 45.87 L242.93 45.83 L243.82 45.78 L244.72 45.74 L245.61 45.69 L246.50 45.65 L247.39 45.61 L248.28 45.57 L249.17 45.53 L250.06 45.49 L250.95 45.45 L251.84 45.41 L252.73 45.38 L253.62 45.34 L254.51 45.31 L255.40 45.27 L256.29 45.24 L257.18 45.21 L258.07 45.17 L258.96 45.14 L259.85 45.11 L260.75 45.08 L261.64 45.05 L262.53 45.02 L263.42 45.00 L264.31 44.97 L265.20 44.94 L266.09 44.92 L266.98 44.89 L267.87 44.86 L268.76 44.84 L269.65 44.81 L270.54 44.79 L271.43 44.77 L272.32 44.75 L273.21 44.72 L274.10 44.70 L274.99 44.68 L275.88 44.66 L276.78 44.64 L277.67 44.62 L278.56 44.60 L279.45 44.58 L280.34 44.56 L281.23 44.54 L282.12 44.52 L283.01 44.51 L283.90 44.49 L284.79 44.47 L285.68 44.46 L286.57 44.44 L287.46 44.42 L288.35 44.41 L289.24 44.39 L290.13 44.38 L291.02 44.37 L291.91 44.35 L292.81 44.34 L293.70 44.32 L294.59 44.31 L295.48 44.30 L296.37 44.28 L297.26 44.27 L298.15 44.26 L299.04 44.25 L299.93 44.24 L300.82 44.22 L301.71 44.21 L302.60 44.20 L303.49 44.19 L304.38 44.18 L305.27 44.17 L306.16 44.16 L307.05 44.15 L307.94 44.14 L308.84 44.13 L309.73 44.12 L310.62 44.11 L311.51 44.11 L312.40 44.10 L313.29 44.09 L314.18 44.08 L315.07 44.07 L315.96 44.06 L316.85 44.06 L317.74 44.05 L318.63 44.04 L319.52 44.03 L320.41 44.03 L321.30 44.02 L322.19 44.01 L323.08 44.01 L323.97 44.00 L324.87 43.99 L325.76 43.99 L326.65 43.98 L327.54 43.98 L328.43 43.97 L329.32 43.96 L330.21 43.96 L331.10 43.95 L331.99 43.95 L332.88 43.94 L333.77 43.94 L334.66 43.93 L335.55 43.93 L336.44 43.92 L337.33 43.92 L338.22 43.91 L339.11 43.91 L340.00 43.90 L340.90 43.90 L341.79 43.90 L342.68 43.89 L343.57 43.89 L344.46 43.88 L345.35 43.88 L346.24 43.88 L347.13 43.87 L348.02 43.87 L348.91 43.86 L349.80 43.86 L350.69 43.86 L351.58 43.85 L352.47 43.85 L353.36 43.85 L354.25 43.84 L355.14 43.84 L356.03 43.84 L356.93 43.84 L357.82 43.83 L358.71 43.83 L359.60 43.83 L360.49 43.82 L361.38 43.82 L362.27 43.82 L363.16 43.82 L364.05 43.81 L364.94 43.81 L365.83 43.81 L366.72 43.81 L367.61 43.80 L368.50 43.80 L369.39 43.80 L370.28 43.80 L371.17 43.80 L372.06 43.79 L372.96 43.79 L373.85 43.79 L374.74 43.79 L375.63 43.79 L376.52 43.78 L377.41 43.78 L378.30 43.78 L379.19 43.78 L380.08 43.78 L380.97 43.78 L381.86 43.77 L382.75 43.77 L383.64 43.77 L384.53 43.77 L385.42 43.77 L386.31 43.77 L387.20 43.77 L388.09 43.76 L388.99 43.76 L389.88 43.76 L390.77 43.76 L391.66 43.76 L392.55 43.76 L393.44 43.76 L394.33 43.75 L395.22 43.75 L396.11 43.75 L397.00 43.75 L397.89 43.75 L398.78 43.75 L399.67 43.75 L400.56 43.75 L401.45 43.75 L402.34 43.75 L403.23 43.74 L404.12 43.74 L405.02 43.74 L405.91 43.74 L406.80 43.74 L407.69 43.74 L408.58 43.74 L409.47 43.74 L410.36 43.74 L411.25 43.74 L412.14 43.74 L413.03 43.73 L413.92 43.73 L414.81 43.73 L415.70 43.73 L416.59 43.73 L417.48 43.73 L418.37 43.73 L419.26 43.73 L420.15 43.73 L421.05 43.73 L421.94 43.73 L422.83 43.73 L423.72 43.73 L424.61 43.73 L425.50 43.73 L426.39 43.73 L427.28 43.72 L428.17 43.72 L429.06 43.72 L429.95 43.72 L430.84 43.72 L431.73 43.72 L432.62 43.72 L433.51 43.72 L434.40 43.72 L435.29 43.72 L436.18 43.72 L437.08 43.72 L437.97 43.72 L438.86 43.72 L439.75 43.72 L440.64 43.72 L441.53 43.72 L442.42 43.72 L443.31 43.72 L444.20 43.72 L445.09 43.72 L445.98 43.72 L446.87 43.72 L447.76 43.72 L448.65 43.71 L449.54 43.71 L450.43 43.71 L451.32 43.71 L452.22 43.71 L453.11 43.71 L454.00 43.71 L454.89 43.71 L455.78 43.71 L456.67 43.71 L457.56 43.71 L458.45 43.71 L459.34 43.71 L460.23 43.71 L461.12 43.71 L462.01 43.71 L462.90 43.71 L463.79 43.71 L464.68 43.71 L465.57 43.71 L466.46 43.71 L467.35 43.71 L468.25 43.71 L469.14 43.71 L470.03 43.71 L470.92 43.71 L471.81 43.71 L472.70 43.71 L473.59 43.71 L474.48 43.71 L475.37 43.71 L476.26 43.71 L477.15 43.71 L478.04 43.71 L478.93 43.71 L479.82 43.71 L480.71 43.71 L481.60 43.71 L482.49 43.71 L483.38 43.71 L484.28 43.71 L485.17 43.71 L486.06 43.71 L486.95 43.71 L487.84 43.71 L488.73 43.71 L489.62 43.71 L490.51 43.71 L491.40 43.71 L492.29 43.71 L493.18 43.71 L494.07 43.70 L494.96 43.70 L495.85 43.70 L496.74 43.70 L497.63 43.70 L498.52 43.70 L499.41 43.70 L500.31 43.70 L501.20 43.70 L502.09 43.70 L502.98 43.70 L503.87 43.70 L504.76 43.70 L505.65 43.70 L506.54 43.70 L507.43 43.70 L508.32 43.70 L509.21 43.70 L510.10 43.70 L510.99 43.70 L511.88 43.70 L512.77 43.70 L513.66 43.70 L514.55 43.70 L515.44 43.70 L516.34 43.70 L517.23 43.70 L518.12 43.70 L519.01 43.70 L519.90 43.70 L520.79 43.70 L521.68 43.70 L522.57 43.70 L523.46 43.70 L524.35 43.70 L525.24 43.70 L526.13 43.70 L527.02 43.70 L527.91 43.70 L528.80 43.70 L529.69 43.70 L530.58 43.70 L531.47 43.70 L532.37 43.70 L533.26 43.70 L534.15 43.70 L535.04 43.70 L535.93 43.70 L536.82 43.70 L537.71 43.70 L538.60 43.70 L539.49 43.70 L540.38 43.70 L541.27 43.70 L542.16 43.70 L543.05 43.70 L543.94 43.70 L544.83 43.70 L545.72 43.70 L546.61 43.70 L547.50 43.70 L548.40 43.70 L549.29 43.70 L550.18 43.70 L551.07 43.70 L551.96 43.70 L552.85 43.70 L553.74 43.70 L554.63 43.70 L555.52 43.70 L556.41 43.70 L557.30 43.70 L558.19 43.70 L559.08 43.70 L559.97 43.70 L560.86 43.70 L561.75 43.70 L562.64 43.70 L563.53 43.70 L564.43 43.70 L565.32 43.70 L566.21 43.70 L567.10 43.70 L567.99 43.70 L568.88 43.70 L569.77 43.70 L570.66 43.70 L571.55 43.70 L572.44 43.70 L573.33 43.70 L574.22 43.70 L575.11 43.70 L576.00 43.70 L576.89 43.70 L577.78 43.70 L578.67 43.70 L579.56 43.70 L580.46 43.70 L581.35 43.70 L582.24 43.70 L583.13 43.70 L584.02 43.70 L584.91 43.70 L585.80 43.70 L586.69 43.70 L587.58 43.70 L588.47 43.70 L589.36 43.70 L590.25 43.70 L591.14 43.70 L592.03 43.70 L592.92 43.70 L593.81 43.70 L594.70 43.70 L595.59 43.70 L596.49 43.70 L597.38 43.70 L598.27 43.70 L599.16 43.70 L600.05 43.70 L600.94 43.70 L601.83 43.70 L602.72 43.70 L603.61 43.70 L604.50 43.70 L605.39 43.70 L606.28 43.70 L607.17 43.70 L608.06 43.70 L608.95 43.70 L609.84 43.70 L610.73 43.70 L611.62 43.70 L612.52 43.70 L613.41 43.70 L614.30 43.70 L615.19 43.70 L616.08 43.70 L616.97 43.70 L617.86 43.70 L618.75 43.70 L619.64 43.70 L620.53 43.70 L621.42 43.70 L622.31 43.70 L623.20 43.70 L624.09 43.70 L624.98 43.70 L625.87 43.70 L626.76 43.70 L627.65 43.70 L628.55 43.70 L629.44 43.70 L630.33 43.70 L631.22 43.70 L632.11 43.70 L633.00 43.70 L633.89 43.70 L634.78 43.70 L635.67 43.70 L636.56 43.70 L637.45 43.70 L638.34 43.70 L639.23 43.70 L640.12 43.70 L641.01 43.70 L641.90 43.70 L642.79 43.70 L643.68 43.70 L644.58 43.70 L645.47 43.70 L646.36 43.70 L647.25 43.70 L648.14 43.70 L649.03 43.70 L649.92 43.70 L650.81 43.70 L651.70 43.70" stroke="#00009a" stroke-width="2.9" fill="none"/>
<path d="M19.96 415.50v-3.2M24.84 415.50v-3.2M57.89 415.50v-3.2M74.67 415.50v-3.2M86.58 415.50v-3.2M95.81 415.50v-3.2M103.36 415.50v-3.2M109.74 415.50v-3.2M115.26 415.50v-3.2M120.14 415.50v-3.2M124.50 415.50v-6.3M153.19 415.50v-3.2M169.97 415.50v-3.2M181.88 415.50v-3.2M191.11 415.50v-3.2M198.66 415.50v-3.2M205.04 415.50v-3.2M210.56 415.50v-3.2M215.44 415.50v-3.2M219.80 415.50v-6.3M248.49 415.50v-3.2M265.27 415.50v-3.2M277.18 415.50v-3.2M286.41 415.50v-3.2M293.96 415.50v-3.2M300.34 415.50v-3.2M305.86 415.50v-3.2M310.74 415.50v-3.2M315.10 415.50v-6.3M343.79 415.50v-3.2M360.57 415.50v-3.2M372.48 415.50v-3.2M381.71 415.50v-3.2M389.26 415.50v-3.2M395.64 415.50v-3.2M401.16 415.50v-3.2M406.04 415.50v-3.2M410.40 415.50v-6.3M439.09 415.50v-3.2M455.87 415.50v-3.2M467.78 415.50v-3.2M477.01 415.50v-3.2M484.56 415.50v-3.2M490.94 415.50v-3.2M496.46 415.50v-3.2M501.34 415.50v-3.2M505.70 415.50v-6.3M534.39 415.50v-3.2M551.17 415.50v-3.2M563.08 415.50v-3.2M572.31 415.50v-3.2M579.86 415.50v-3.2M586.24 415.50v-3.2M591.76 415.50v-3.2M596.64 415.50v-3.2M601.00 415.50v-6.3M629.69 415.50v-3.2M646.47 415.50v-3.2M658.38 415.50v-3.2M29.20 396.91h3.2M29.20 378.32h3.2M29.20 359.73h3.2M29.20 341.14h5.6M29.20 322.55h3.2M29.20 303.96h3.2M29.20 285.37h3.2M29.20 266.78h5.6M29.20 248.19h3.2M29.20 229.60h3.2M29.20 211.01h3.2M29.20 192.42h5.6M29.20 173.83h3.2M29.20 155.24h3.2M29.20 136.65h3.2M29.20 118.06h5.6M29.20 99.47h3.2M29.20 80.88h3.2M29.20 62.29h3.2M29.20 43.70h5.6M29.20 25.11h3.2" stroke="#555" stroke-width="0.9" fill="none"/>
<path d="M16 415.5H663.3M29.2 423.2V24.1" stroke="#2b2b2b" stroke-width="0.85" fill="none"/>
<path d="M152.2 244.4H178.7" stroke="#00009a" stroke-width="2.6"/>
<path d="M152.2 278.3H203" stroke="#00a911" stroke-width="4.2" stroke-dasharray="6.5 6.35"/>
<path d="M152.2 312H203.8" stroke="#ff0000" stroke-width="4.2" stroke-dasharray="11.6 4.1 6.1 6.5"/>
<path d="M152.2 346.3H203.8" stroke="#0000ff" stroke-width="4.2" stroke-dasharray="11.5 4"/>
<text x="24.8" y="346.5" font-size="18" text-anchor="end" >0.2</text>
<text x="24.8" y="273.2" font-size="18" text-anchor="end" >0.4</text>
<text x="24.8" y="198.4" font-size="18" text-anchor="end" >0.6</text>
<text x="24.8" y="124.5" font-size="18" text-anchor="end" >0.8</text>
<text x="24.8" y="50.1" font-size="18" text-anchor="end" >1.0</text>
<text x="124.6" y="439.3" font-size="18" text-anchor="middle" >10</text>
<text x="219.8" y="439.3" font-size="18" text-anchor="middle" >100</text>
<text x="315.1" y="439.3" font-size="18" text-anchor="middle" >1000</text>
<text x="396.9" y="437.2" font-size="18">10<tspan font-size="12.5" dy="-7.2" dx="-0.6">4</tspan></text>
<text x="492.2" y="437.2" font-size="18">10<tspan font-size="12.5" dy="-7.2" dx="-0.6">5</tspan></text>
<text x="587.5" y="437.2" font-size="18">10<tspan font-size="12.5" dy="-7.2" dx="-0.6">6</tspan></text>
<text x="674" y="421.2" font-size="18">1/(1−<tspan font-style="italic">ρ</tspan>Ω)</text>
<text x="21.3" y="10.9" font-size="17.6" font-style="italic">v<tspan font-size="13.3" dy="1.9">L</tspan></text>
<text y="248.9" font-size="20"><tspan x="190" font-style="italic">ρ</tspan><tspan x="203.2">Ω</tspan></text>
<text y="282.9" font-size="20"><tspan x="214.6" font-style="italic">β</tspan><tspan x="227.3" font-size="14.2" dy="3.4">0</tspan><tspan x="236.3" dy="-3.4">Ω</tspan><tspan x="253.5">=</tspan><tspan x="266.6">1</tspan></text>
<text y="316.6" font-size="20"><tspan x="214.6" font-style="italic">β</tspan><tspan x="227.3" font-size="14.2" dy="3.4">0</tspan><tspan x="236.3" dy="-3.4">Ω</tspan><tspan x="253.5">=</tspan><tspan x="266.6">1.25</tspan></text>
<text y="350.9" font-size="20"><tspan x="214.6" font-style="italic">β</tspan><tspan x="227.3" font-size="14.2" dy="3.4">0</tspan><tspan x="236.3" dy="-3.4">Ω</tspan><tspan x="253.5">=</tspan><tspan x="266.6">1.67</tspan></text>
</svg>
</body></html>
